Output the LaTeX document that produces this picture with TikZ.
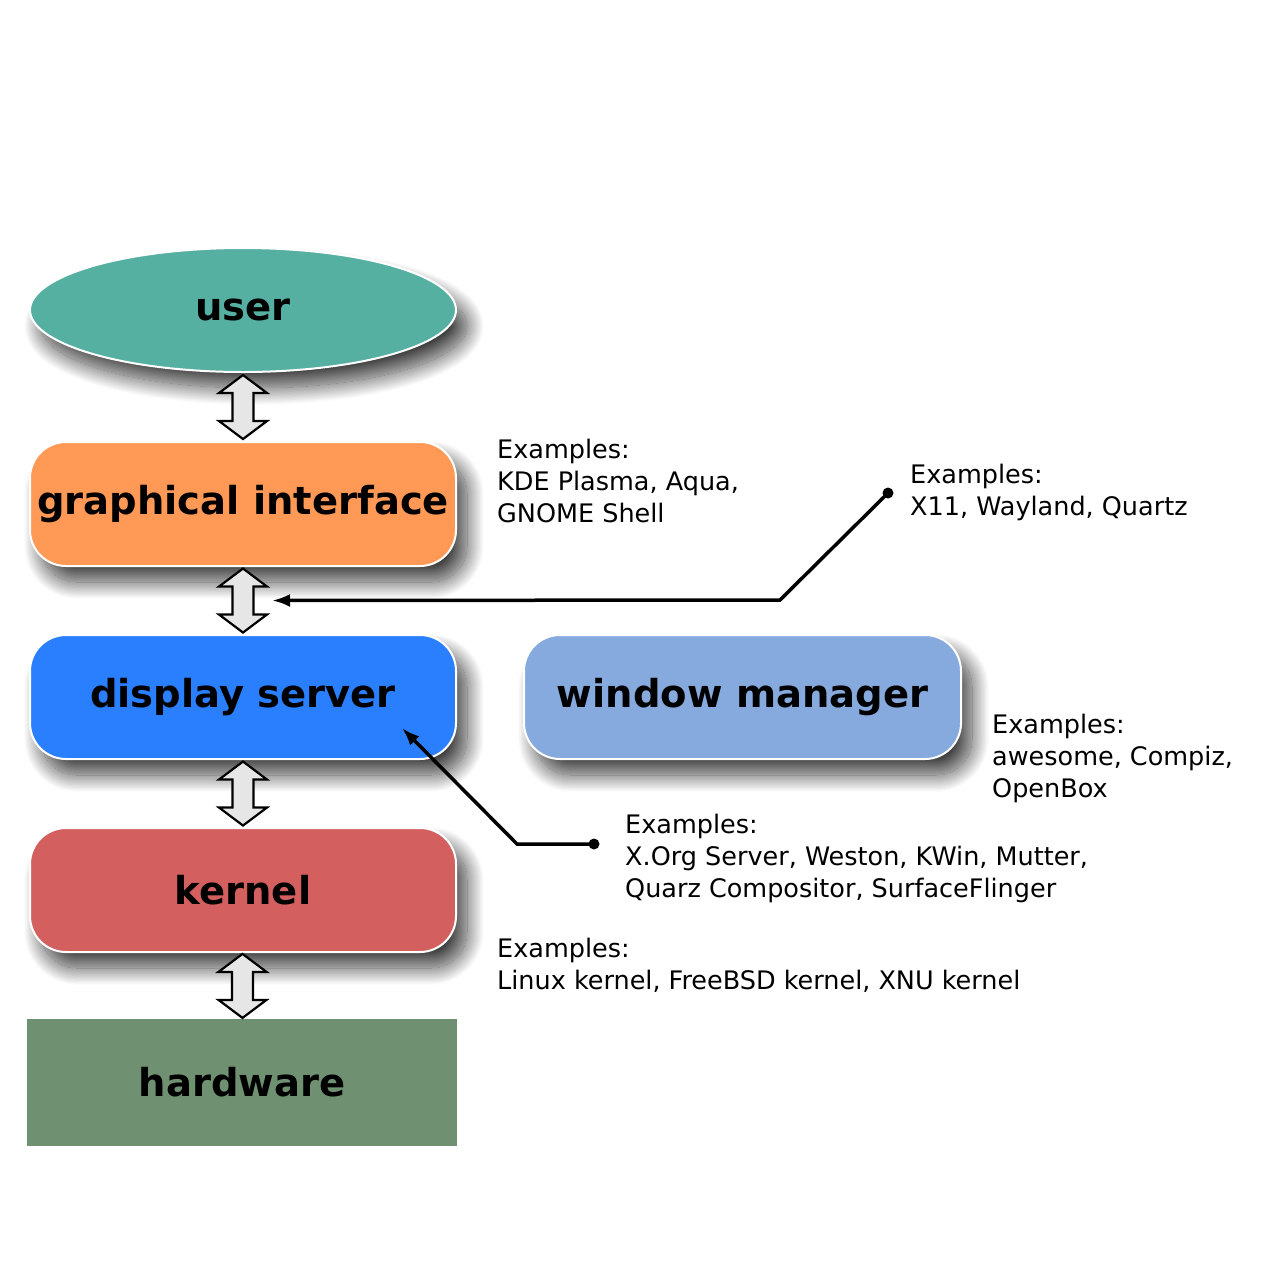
\documentclass[tikz,border=0pt]{standalone}
\usepackage{fontspec}
\setmainfont{DejaVu Sans}
\usetikzlibrary{arrows.meta,shapes.geometric,shadows.blur,calc}

\definecolor{usergreen}{HTML}{56B0A2}
\definecolor{guiorange}{HTML}{FF9955}
\definecolor{dsblue}{HTML}{2A7FFF}
\definecolor{wmblue}{HTML}{87AADE}
\definecolor{kernred}{HTML}{D35F5F}
\definecolor{hwgreen}{HTML}{6F9171}
\definecolor{arrowgray}{HTML}{E6E6E6}

\begin{document}
\begin{tikzpicture}[x=1pt,y=-1pt,>={Latex[length=18pt,width=13pt]},
  layer/.style={draw=white,line width=2pt,minimum width=426pt,minimum height=124pt,
    font=\fontsize{38.5}{44}\selectfont\bfseries,
    blur shadow={shadow xshift=11pt,shadow yshift=-16pt,shadow blur radius=17pt,
      shadow blur steps=30,shadow opacity=75}},
  note/.style={anchor=north west,inner sep=0pt,align=left,font=\fontsize{25.5}{32}\selectfont},
  updown/.style={draw=black,line width=2.2pt,fill=arrowgray,line join=miter},
  callout/.style={line width=3.5pt}]
\useasboundingbox (0,0) rectangle (1280,1280);
% ================= layers =================
\node[layer,ellipse,fill=usergreen] (user) at (243,310) {user};
\node[layer,rounded corners=36pt,fill=guiorange] (gui) at (243,504) {graphical interface};
\node[layer,rounded corners=36pt,fill=dsblue] (dsrv) at (243,697) {display server};
\node[layer,rounded corners=36pt,fill=wmblue,minimum width=437pt] (wm) at (742.5,697) {window manager};
\node[layer,rounded corners=36pt,fill=kernred] (kern) at (243,890) {kernel};
\node[minimum width=430pt,minimum height=127pt,fill=hwgreen,
  font=\fontsize{38.5}{44}\selectfont\bfseries] (hw) at (242,1082.5) {hardware};
% ================= double arrows between layers =================
\foreach \a/\b [count=\i] in {user/gui,gui/dsrv,dsrv/kern,kern/hw}
  \draw[updown] ($(\a.south)!.5!(\b.north)$) coordinate (mid\i)
    +(0,-32) -- +(24,-14) -- +(10.5,-14) -- +(10.5,14) -- +(24,14) -- +(0,32)
    -- +(-24,14) -- +(-10.5,14) -- +(-10.5,-14) -- +(-24,-14) -- cycle;
% ================= examples =================
\node[note] (guinote) at (497,438.6) {Examples:\\KDE Plasma, Aqua,\\GNOME Shell};
\node[note] (protonote) at (910,463.6) {Examples:\\X11, Wayland, Quartz};
\node[note] (wmnote) at (992,713.6) {Examples:\\awesome, Compiz,\\OpenBox};
\node[note] (dsnote) at (625,813.6) {Examples:\\X.Org Server, Weston, KWin, Mutter,\\Quarz Compositor, SurfaceFlinger};
\node[note] (kernnote) at (497,937.6) {Examples:\\Linux kernel, FreeBSD kernel, XNU kernel};
% callout lines with dots
\coordinate (protodot) at (888,493);
\coordinate (dsdot) at (594,844);
\draw[callout,->] (protodot) -- (780,600) -- ([xshift=29pt]mid2);
\draw[callout,->] (dsdot) -- (517,844) -- ($(dsrv.center)+(159,31)$);
\fill (protodot) circle (5.5pt);
\fill (dsdot) circle (5.5pt);
\end{tikzpicture}
\end{document}
